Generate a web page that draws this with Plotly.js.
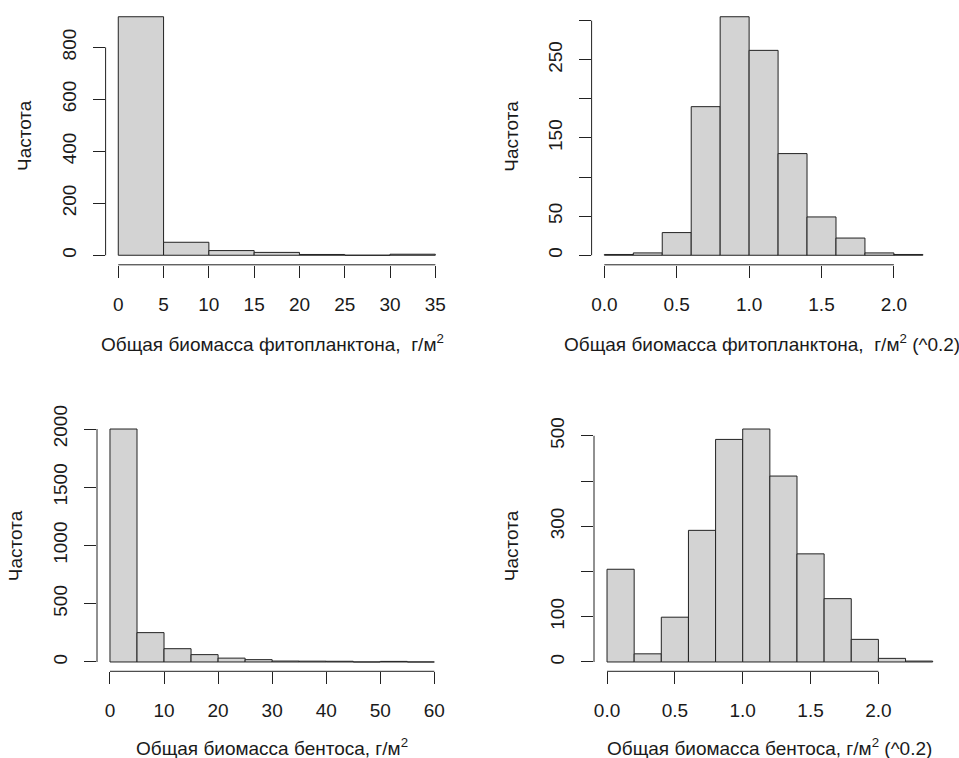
<!DOCTYPE html>
<html><head><meta charset="utf-8">
<script src="https://cdn.plot.ly/plotly-3.0.1.min.js"></script>
<style>html,body{margin:0;padding:0;background:#fff}#chart{width:959px;height:758px}</style>
</head><body><div id="chart"></div>
<script>
// ---- Panel 1: phytoplankton biomass, raw ----
const phytoBreaks = [0, 5, 10, 15, 20, 25, 30, 35];
const phytoCounts = [918, 50, 18, 11, 3, 0, 4];
const phytoXTicks = [0, 5, 10, 15, 20, 25, 30, 35];
const phytoXLabels = ['0', '5', '10', '15', '20', '25', '30', '35'];
const phytoYTicks = [0, 200, 400, 600, 800];
const phytoYLabels = ['0', '200', '400', '600', '800'];

// ---- Panel 2: phytoplankton biomass ^0.2 ----
const phytoTBreaks = [0, 0.2, 0.4, 0.6, 0.8, 1.0, 1.2, 1.4, 1.6, 1.8, 2.0, 2.2];
const phytoTCounts = [1, 3, 29, 190, 305, 262, 130, 49, 22, 3, 1];
const phytoTXTicks = [0, 0.5, 1.0, 1.5, 2.0];
const phytoTXLabels = ['0.0', '0.5', '1.0', '1.5', '2.0'];
const phytoTYTicks = [0, 50, 100, 150, 200, 250, 300];
const phytoTYLabels = ['0', '50', '', '150', '', '250', ''];

// ---- Panel 3: benthos biomass, raw ----
const benthBreaks = [0, 5, 10, 15, 20, 25, 30, 35, 40, 45, 50, 55, 60];
const benthCounts = [2000, 252, 114, 63, 33, 20, 8, 7, 6, 0, 5, 0];
const benthXTicks = [0, 10, 20, 30, 40, 50, 60];
const benthXLabels = ['0', '10', '20', '30', '40', '50', '60'];
const benthYTicks = [0, 500, 1000, 1500, 2000];
const benthYLabels = ['0', '500', '1000', '1500', '2000'];

// ---- Panel 4: benthos biomass ^0.2 ----
const benthTBreaks = [0, 0.2, 0.4, 0.6, 0.8, 1.0, 1.2, 1.4, 1.6, 1.8, 2.0, 2.2, 2.4];
const benthTCounts = [205, 18, 99, 291, 492, 515, 411, 239, 140, 50, 8, 2];
const benthTXTicks = [0, 0.5, 1.0, 1.5, 2.0];
const benthTXLabels = ['0.0', '0.5', '1.0', '1.5', '2.0'];
const benthTYTicks = [0, 100, 200, 300, 400, 500];
const benthTYLabels = ['0', '100', '', '300', '', '500'];

// ---- Titles ----
const xTitles = [
  'Общая биомасса фитопланктона,\u00A0 г/м<sup>2</sup>',
  'Общая биомасса фитопланктона,\u00A0 г/м<sup>2</sup> (^0.2)',
  'Общая биомасса бентоса, г/м<sup>2</sup>',
  'Общая биомасса бентоса, г/м<sup>2</sup> (^0.2)'
];
const yTitle = 'Частота';

// ---- Layout geometry (pixels) ----
const W = 959, H = 758;
const boxes = [
  {l: 105.6, r: 448.0, t: 7.2, b: 264.8, yTitleX: 25, yTickStand: 9, xTitleX: 272.5, xTitleY: 343},
  {l: 591.6, r: 935.6, t: 7.2, b: 264.8, yTitleX: 511.7, yTickStand: 9, xTitleX: 762, xTitleY: 343},
  {l: 97.0, r: 447.3, t: 419.7, b: 671.3, yTitleX: 15.7, yTickStand: 9, xTitleX: 271.5, xTitleY: 746.7},
  {l: 594.0, r: 945.7, t: 419.7, b: 671.3, yTitleX: 511.7, yTickStand: 9, xTitleX: 769.5, xTitleY: 746.7}
];

const panels = [
  {breaks: phytoBreaks, counts: phytoCounts, xt: phytoXTicks, xl: phytoXLabels, yt: phytoYTicks, yl: phytoYLabels},
  {breaks: phytoTBreaks, counts: phytoTCounts, xt: phytoTXTicks, xl: phytoTXLabels, yt: phytoTYTicks, yl: phytoTYLabels},
  {breaks: benthBreaks, counts: benthCounts, xt: benthXTicks, xl: benthXLabels, yt: benthYTicks, yl: benthYLabels},
  {breaks: benthTBreaks, counts: benthTCounts, xt: benthTXTicks, xl: benthTXLabels, yt: benthTYTicks, yl: benthTYLabels}
];

const FONT = 'Liberation Sans, Arial, sans-serif';
const FS = 19;
const INK = '#1a1a1a';

const data = [];
const layout = {
  width: W, height: H,
  margin: {l: 0, r: 0, t: 0, b: 0},
  paper_bgcolor: '#fff', plot_bgcolor: '#fff',
  showlegend: false,
  bargap: 0,
  font: {family: FONT, size: FS, color: INK},
  shapes: [], annotations: []
};

panels.forEach((p, i) => {
  const n = i + 1;
  const xa = n === 1 ? 'x' : 'x' + n;
  const ya = n === 1 ? 'y' : 'y' + n;
  const xKey = n === 1 ? 'xaxis' : 'xaxis' + n;
  const yKey = n === 1 ? 'yaxis' : 'yaxis' + n;
  const centers = [], widths = [];
  for (let k = 0; k < p.counts.length; k++) {
    centers.push((p.breaks[k] + p.breaks[k + 1]) / 2);
    widths.push(p.breaks[k + 1] - p.breaks[k]);
  }
  data.push({
    type: 'bar', x: centers, y: p.counts, width: widths,
    xaxis: xa, yaxis: ya,
    marker: {color: '#d3d3d3', line: {color: '#222', width: 1}},
    hoverinfo: 'x+y'
  });
  const x0 = Math.min(p.breaks[0], p.xt[0]);
  const x1 = Math.max(p.breaks[p.breaks.length - 1], p.xt[p.xt.length - 1]);
  const xs = x1 - x0;
  const ymax = Math.max(...p.counts);
  const bx = boxes[i];
  layout[xKey] = {
    domain: [bx.l / W, bx.r / W],
    range: [x0 - 0.04 * xs, x1 + 0.04 * xs],
    anchor: ya,
    tickmode: 'array', tickvals: p.xt, ticktext: p.xl,
    ticks: 'outside', ticklen: 12, tickwidth: 1, tickcolor: '#222',
    ticklabelstandoff: 10,
    showline: false, showgrid: false, zeroline: false,
    tickfont: {family: FONT, size: FS, color: INK},
    fixedrange: true
  };
  layout[yKey] = {
    domain: [1 - bx.b / H, 1 - bx.t / H],
    range: [-0.04 * ymax, 1.04 * ymax],
    anchor: xa,
    tickmode: 'array', tickvals: p.yt, ticktext: p.yl,
    ticks: 'outside', ticklen: 12, tickwidth: 1, tickcolor: '#222',
    tickangle: -90,
    ticklabelstandoff: bx.yTickStand,
    showline: false, showgrid: false, zeroline: false,
    tickfont: {family: FONT, size: FS, color: INK},
    fixedrange: true
  };
  // R-style axis lines spanning first to last tick
  layout.shapes.push({
    type: 'line', xref: xa, yref: ya + ' domain',
    x0: p.xt[0], x1: p.xt[p.xt.length - 1], y0: 0, y1: 0,
    line: {color: '#222', width: 1}
  });
  layout.shapes.push({
    type: 'line', xref: xa + ' domain', yref: ya,
    x0: 0, x1: 0, y0: p.yt[0], y1: p.yt[p.yt.length - 1],
    line: {color: '#222', width: 1}
  });
  layout.annotations.push({
    xref: 'paper', yref: 'paper',
    x: bx.xTitleX / W, y: 1 - bx.xTitleY / H,
    xanchor: 'center', yanchor: 'middle',
    text: xTitles[i], showarrow: false,
    font: {family: FONT, size: FS, color: INK}
  });
  layout.annotations.push({
    xref: 'paper', yref: 'paper',
    x: bx.yTitleX / W, y: 1 - ((bx.t + bx.b) / 2) / H,
    xanchor: 'center', yanchor: 'middle', textangle: -90,
    text: yTitle, showarrow: false,
    font: {family: FONT, size: FS, color: INK}
  });
});

Plotly.newPlot('chart', data, layout, {displayModeBar: false, staticPlot: true});
</script>
</body></html>
